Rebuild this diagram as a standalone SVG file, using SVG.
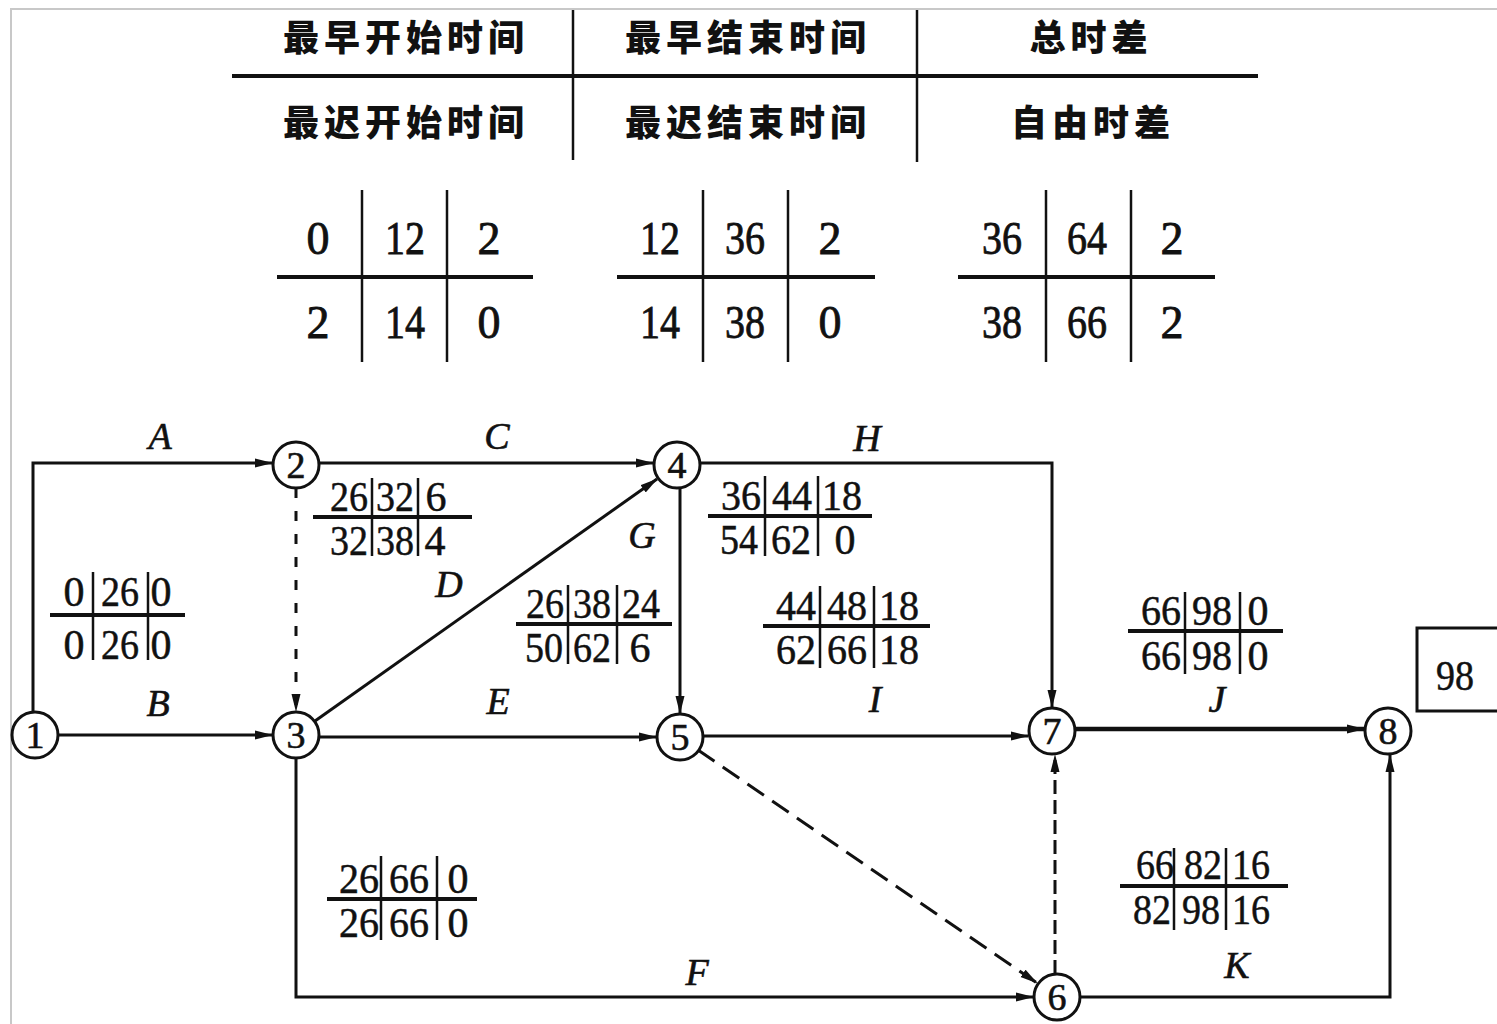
<svg xmlns="http://www.w3.org/2000/svg" width="1497" height="1024" viewBox="0 0 1497 1024">
<defs>
<marker id="arr" markerUnits="userSpaceOnUse" markerWidth="18" markerHeight="10" refX="17" refY="5" orient="auto"><path d="M0,0.5 L18,5 L0,9.5 z" fill="#111"/></marker>
<style>
.frame{stroke:#c8c8c8;stroke-width:2;fill:none}
.hd{font-family:"Noto Sans CJK SC","Noto Sans CJK TC",sans-serif;font-weight:900;font-size:36px;letter-spacing:5px;fill:#111;text-anchor:middle}
.rule{stroke:#111;stroke-width:2.5}
.thick{stroke:#111;stroke-width:4}
.num{font-family:"Liberation Serif",serif;font-size:46px;fill:#111;stroke:#111;stroke-width:0.8;text-anchor:middle}
.lab{font-family:"Liberation Serif",serif;font-size:42px;fill:#111;stroke:#111;stroke-width:0.5;text-anchor:middle}
.act{font-family:"Liberation Serif",serif;font-style:italic;font-size:38px;fill:#111;stroke:#111;stroke-width:0.6;text-anchor:middle}
.node circle{fill:#fff;stroke:#111;stroke-width:3}
.node text{font-family:"Liberation Serif",serif;font-size:38px;fill:#111;stroke:#111;stroke-width:0.6;text-anchor:middle}
.edge{stroke:#111;stroke-width:3;fill:none}
.dash1{stroke-dasharray:10 13}
.dash2{stroke-dasharray:20 10}
.dash3{stroke-dasharray:14 6}
</style>
</defs>
<rect width="1497" height="1024" fill="#fff"/>
<path class="frame" d="M11 1024 V9 H1497"/>

<g id="legend-header">
<line class="thick" x1="232" y1="76" x2="1258" y2="76"/>
<line class="rule" x1="573" y1="10" x2="573" y2="160"/>
<line class="rule" x1="917" y1="10" x2="917" y2="162"/>
<text class="hd" x="406" y="51">最早开始时间</text>
<text class="hd" x="748" y="51">最早结束时间</text>
<text class="hd" x="1091" y="51">总时差</text>
<text class="hd" x="406" y="136">最迟开始时间</text>
<text class="hd" x="748" y="136">最迟结束时间</text>
<text class="hd" x="1093" y="136">自由时差</text>
</g>

<g id="legend-example-1">
<line class="thick" x1="277" y1="277" x2="533" y2="277"/>
<line class="rule" x1="362" y1="190" x2="362" y2="362"/>
<line class="rule" x1="447" y1="190" x2="447" y2="362"/>
<text class="num" x="318" y="254">0</text><text class="num" x="405" y="254" textLength="40" lengthAdjust="spacingAndGlyphs">12</text><text class="num" x="489" y="254">2</text>
<text class="num" x="318" y="338">2</text><text class="num" x="405" y="338" textLength="40" lengthAdjust="spacingAndGlyphs">14</text><text class="num" x="489" y="338">0</text>
</g>
<g id="legend-example-2">
<line class="thick" x1="617" y1="277" x2="875" y2="277"/>
<line class="rule" x1="703" y1="190" x2="703" y2="362"/>
<line class="rule" x1="788" y1="190" x2="788" y2="362"/>
<text class="num" x="660" y="254" textLength="40" lengthAdjust="spacingAndGlyphs">12</text><text class="num" x="745" y="254" textLength="40" lengthAdjust="spacingAndGlyphs">36</text><text class="num" x="830" y="254">2</text>
<text class="num" x="660" y="338" textLength="40" lengthAdjust="spacingAndGlyphs">14</text><text class="num" x="745" y="338" textLength="40" lengthAdjust="spacingAndGlyphs">38</text><text class="num" x="830" y="338">0</text>
</g>
<g id="legend-example-3">
<line class="thick" x1="958" y1="277" x2="1215" y2="277"/>
<line class="rule" x1="1046" y1="190" x2="1046" y2="362"/>
<line class="rule" x1="1131" y1="190" x2="1131" y2="362"/>
<text class="num" x="1002" y="254" textLength="40" lengthAdjust="spacingAndGlyphs">36</text><text class="num" x="1087" y="254" textLength="40" lengthAdjust="spacingAndGlyphs">64</text><text class="num" x="1172" y="254">2</text>
<text class="num" x="1002" y="338" textLength="40" lengthAdjust="spacingAndGlyphs">38</text><text class="num" x="1087" y="338" textLength="40" lengthAdjust="spacingAndGlyphs">66</text><text class="num" x="1172" y="338">2</text>
</g>

<g id="connectors">
<path class="edge" d="M33 712 V463 H272" marker-end="url(#arr)"/>
<path class="edge" d="M58 735 H272" marker-end="url(#arr)"/>
<path class="edge" d="M319 463 H653" marker-end="url(#arr)"/>
<path class="edge dash1" d="M296 488 V711" marker-end="url(#arr)"/>
<path class="edge" d="M315 721 L657 479" marker-end="url(#arr)"/>
<path class="edge" d="M319 737 H656" marker-end="url(#arr)"/>
<path class="edge" d="M296 758 V997 H1033" marker-end="url(#arr)"/>
<path class="edge" d="M680 488 V713" marker-end="url(#arr)"/>
<path class="edge" d="M700 463 H1052 V707" marker-end="url(#arr)"/>
<path class="edge" d="M703 736 H1028" marker-end="url(#arr)"/>
<path class="edge" style="stroke-width:4.5" d="M1075 729 H1364" marker-end="url(#arr)"/>
<path class="edge" d="M1080 997 H1390 V755" marker-end="url(#arr)"/>
<path class="edge dash2" d="M698 750 L1037 983" marker-end="url(#arr)"/>
<path class="edge dash3" d="M1055 974 V755" marker-end="url(#arr)"/>
</g>

<g id="activity-labels">
<text class="act" x="160" y="449">A</text>
<text class="act" x="158" y="716">B</text>
<text class="act" x="497" y="449">C</text>
<text class="act" x="449" y="597">D</text>
<text class="act" x="498" y="714">E</text>
<text class="act" x="697" y="985">F</text>
<text class="act" x="642" y="548">G</text>
<text class="act" x="867" y="451">H</text>
<text class="act" x="875" y="712">I</text>
<text class="act" x="1217" y="712">J</text>
<text class="act" x="1237" y="978">K</text>
</g>

<g id="time-labels">
<g id="tl-B">
<line class="thick" x1="50" y1="615" x2="185" y2="615"/>
<line class="rule" x1="93" y1="572" x2="93" y2="660"/><line class="rule" x1="148" y1="572" x2="148" y2="660"/>
<text class="lab" x="74" y="606">0</text><text class="lab" x="120" y="606" textLength="38" lengthAdjust="spacingAndGlyphs">26</text><text class="lab" x="161" y="606">0</text>
<text class="lab" x="74" y="659">0</text><text class="lab" x="120" y="659" textLength="38" lengthAdjust="spacingAndGlyphs">26</text><text class="lab" x="161" y="659">0</text>
</g>
<g id="tl-C">
<line class="thick" x1="313" y1="517" x2="472" y2="517"/>
<line class="rule" x1="372" y1="478" x2="372" y2="556"/><line class="rule" x1="418" y1="478" x2="418" y2="556"/>
<text class="lab" x="349" y="511" textLength="38" lengthAdjust="spacingAndGlyphs">26</text><text class="lab" x="395" y="511" textLength="38" lengthAdjust="spacingAndGlyphs">32</text><text class="lab" x="436" y="511">6</text>
<text class="lab" x="349" y="555" textLength="38" lengthAdjust="spacingAndGlyphs">32</text><text class="lab" x="395" y="555" textLength="38" lengthAdjust="spacingAndGlyphs">38</text><text class="lab" x="435" y="555">4</text>
</g>
<g id="tl-D">
<line class="thick" x1="516" y1="624" x2="672" y2="624"/>
<line class="rule" x1="568" y1="585" x2="568" y2="664"/><line class="rule" x1="617" y1="585" x2="617" y2="664"/>
<text class="lab" x="545" y="618" textLength="38" lengthAdjust="spacingAndGlyphs">26</text><text class="lab" x="592" y="618" textLength="38" lengthAdjust="spacingAndGlyphs">38</text><text class="lab" x="641" y="618" textLength="38" lengthAdjust="spacingAndGlyphs">24</text>
<text class="lab" x="544" y="662" textLength="38" lengthAdjust="spacingAndGlyphs">50</text><text class="lab" x="592" y="662" textLength="38" lengthAdjust="spacingAndGlyphs">62</text><text class="lab" x="640" y="662">6</text>
</g>
<g id="tl-H">
<line class="thick" x1="708" y1="516" x2="872" y2="516"/>
<line class="rule" x1="765" y1="476" x2="765" y2="556"/><line class="rule" x1="818" y1="476" x2="818" y2="556"/>
<text class="lab" x="741" y="510" textLength="40" lengthAdjust="spacingAndGlyphs">36</text><text class="lab" x="792" y="510" textLength="40" lengthAdjust="spacingAndGlyphs">44</text><text class="lab" x="842" y="510" textLength="40" lengthAdjust="spacingAndGlyphs">18</text>
<text class="lab" x="739" y="554" textLength="38" lengthAdjust="spacingAndGlyphs">54</text><text class="lab" x="791" y="554" textLength="40" lengthAdjust="spacingAndGlyphs">62</text><text class="lab" x="845" y="554">0</text>
</g>
<g id="tl-I">
<line class="thick" x1="763" y1="626" x2="930" y2="626"/>
<line class="rule" x1="820" y1="586" x2="820" y2="668"/><line class="rule" x1="874" y1="586" x2="874" y2="668"/>
<text class="lab" x="796" y="620" textLength="40" lengthAdjust="spacingAndGlyphs">44</text><text class="lab" x="847" y="620" textLength="40" lengthAdjust="spacingAndGlyphs">48</text><text class="lab" x="899" y="620" textLength="40" lengthAdjust="spacingAndGlyphs">18</text>
<text class="lab" x="796" y="664" textLength="40" lengthAdjust="spacingAndGlyphs">62</text><text class="lab" x="847" y="664" textLength="40" lengthAdjust="spacingAndGlyphs">66</text><text class="lab" x="899" y="664" textLength="40" lengthAdjust="spacingAndGlyphs">18</text>
</g>
<g id="tl-J">
<line class="thick" x1="1128" y1="631" x2="1283" y2="631"/>
<line class="rule" x1="1185" y1="592" x2="1185" y2="674"/><line class="rule" x1="1240" y1="592" x2="1240" y2="674"/>
<text class="lab" x="1161" y="625" textLength="40" lengthAdjust="spacingAndGlyphs">66</text><text class="lab" x="1212" y="625" textLength="40" lengthAdjust="spacingAndGlyphs">98</text><text class="lab" x="1258" y="625">0</text>
<text class="lab" x="1161" y="670" textLength="40" lengthAdjust="spacingAndGlyphs">66</text><text class="lab" x="1212" y="670" textLength="40" lengthAdjust="spacingAndGlyphs">98</text><text class="lab" x="1258" y="670">0</text>
</g>
<g id="tl-F">
<line class="thick" x1="327" y1="899" x2="477" y2="899"/>
<line class="rule" x1="381" y1="856" x2="381" y2="940"/><line class="rule" x1="437" y1="856" x2="437" y2="940"/>
<text class="lab" x="359" y="893" textLength="40" lengthAdjust="spacingAndGlyphs">26</text><text class="lab" x="409" y="893" textLength="40" lengthAdjust="spacingAndGlyphs">66</text><text class="lab" x="458" y="893">0</text>
<text class="lab" x="359" y="937" textLength="40" lengthAdjust="spacingAndGlyphs">26</text><text class="lab" x="409" y="937" textLength="40" lengthAdjust="spacingAndGlyphs">66</text><text class="lab" x="458" y="937">0</text>
</g>
<g id="tl-K">
<line class="thick" x1="1120" y1="886" x2="1288" y2="886"/>
<line class="rule" x1="1174" y1="848" x2="1174" y2="930"/><line class="rule" x1="1226" y1="848" x2="1226" y2="930"/>
<text class="lab" x="1155" y="879" textLength="38" lengthAdjust="spacingAndGlyphs">66</text><text class="lab" x="1203" y="879" textLength="38" lengthAdjust="spacingAndGlyphs">82</text><text class="lab" x="1251" y="879" textLength="38" lengthAdjust="spacingAndGlyphs">16</text>
<text class="lab" x="1152" y="924" textLength="38" lengthAdjust="spacingAndGlyphs">82</text><text class="lab" x="1201" y="924" textLength="38" lengthAdjust="spacingAndGlyphs">98</text><text class="lab" x="1251" y="924" textLength="38" lengthAdjust="spacingAndGlyphs">16</text>
</g>
</g>

<g id="node-1" class="node"><circle cx="35" cy="735" r="23"/><text x="35" y="748">1</text></g>
<g id="node-2" class="node"><circle cx="296" cy="465" r="23"/><text x="296" y="478">2</text></g>
<g id="node-3" class="node"><circle cx="296" cy="735" r="23"/><text x="296" y="748">3</text></g>
<g id="node-4" class="node"><circle cx="677" cy="465" r="23"/><text x="677" y="478">4</text></g>
<g id="node-5" class="node"><circle cx="680" cy="737" r="23"/><text x="680" y="750">5</text></g>
<g id="node-6" class="node"><circle cx="1057" cy="997" r="23"/><text x="1057" y="1010">6</text></g>
<g id="node-7" class="node"><circle cx="1052" cy="731" r="23"/><text x="1052" y="744">7</text></g>
<g id="node-8" class="node"><circle cx="1388" cy="731" r="23"/><text x="1388" y="744">8</text></g>
<g id="total-duration">
<rect x="1417" y="628" width="90" height="83" fill="#fff" stroke="#111" stroke-width="3"/>
<text class="lab" x="1455" y="690" textLength="38" lengthAdjust="spacingAndGlyphs">98</text>
</g>
</svg>
